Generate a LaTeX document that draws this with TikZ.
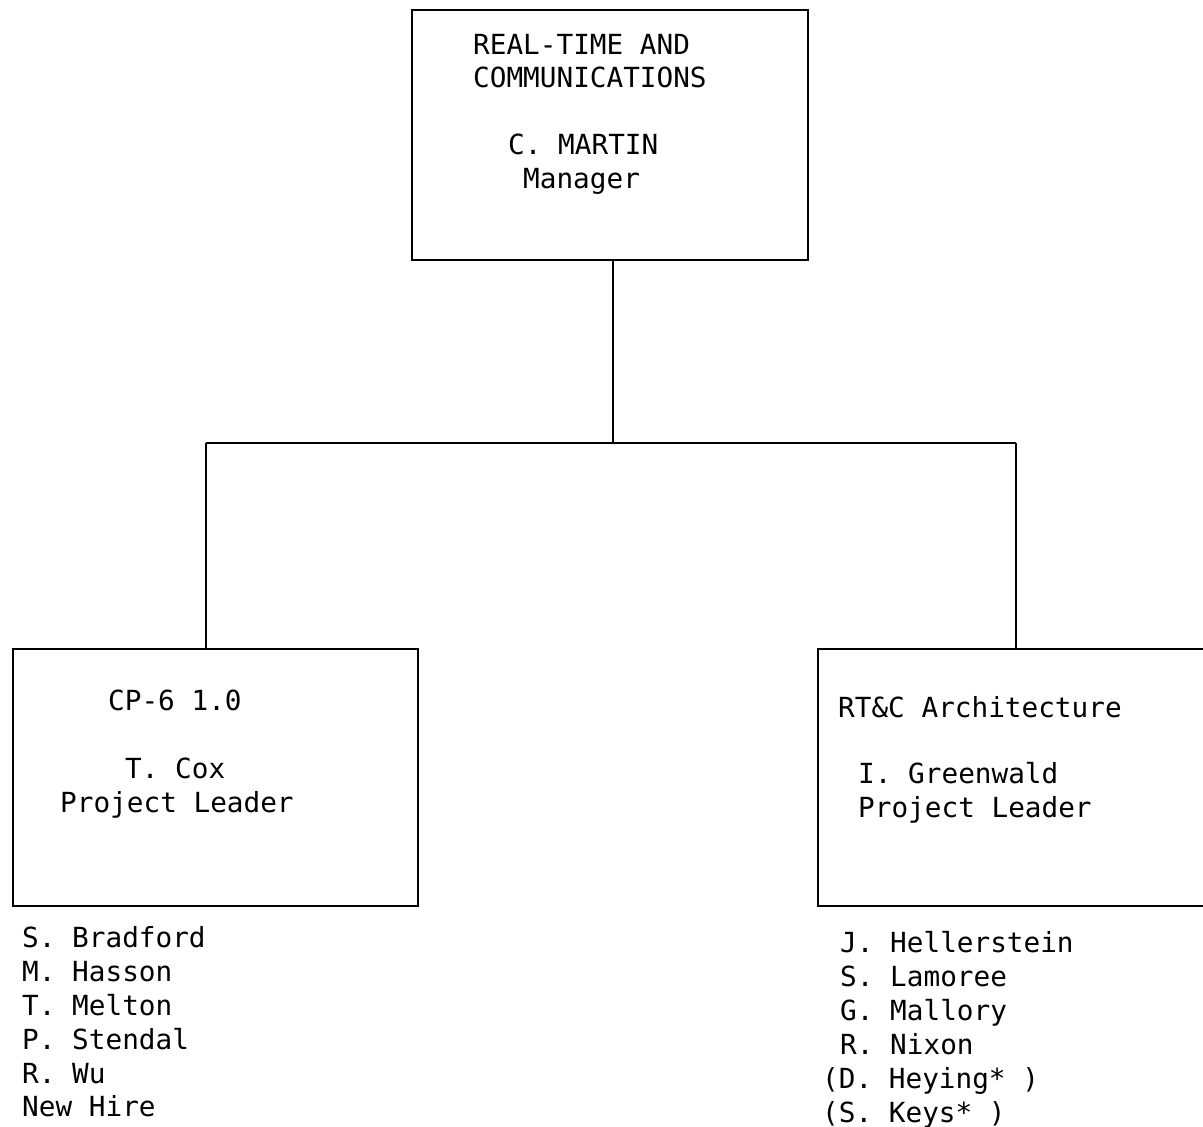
\documentclass[tikz,border=0pt]{standalone}
\usepackage{fontspec}
\setmonofont{DejaVu Sans Mono}
\usetikzlibrary{positioning}

\tikzset{
  box/.style={draw,line width=2.8pt,minimum width=396pt,minimum height=250pt,inner sep=0pt},
  typed/.style={anchor=base west,inner sep=0pt,font=\ttfamily\fontsize{27.7}{33.5}\selectfont},
  wire/.style={line width=2.8pt}
}

\begin{document}
\begin{tikzpicture}[x=1pt,y=-1pt]
    \useasboundingbox (0,0) rectangle (1203,1127);

    % boxes
    \node[box] (rtc)  at (610,135)   {};
    \node[box,minimum width=405pt,minimum height=257pt] (cp6)  at (215.5,777.5) {};
    \node[box,minimum width=405pt,minimum height=257pt] (arch) at (1020.5,777.5) {};

    % manager
    \node[typed] (rtcA) at (473,54)  {REAL-TIME AND};
    \node[typed] (rtcB) at (473,87)  {COMMUNICATIONS};
    \node[typed] (mgr)  at (508,154) {C. MARTIN};
    \node[typed] (mgrT) at (523,188) {Manager};

    % left group
    \node[typed] (cp6A) at (108,710) {CP-6 1.0};
    \node[typed] (cox)  at (125,778) {T. Cox};
    \node[typed] (coxT) at (60,812)  {Project Leader};

    % right group
    \node[typed] (archA) at (838,717) {RT\&C Architecture};
    \node[typed] (green) at (858,783) {I. Greenwald};
    \node[typed] (grnT)  at (858,817) {Project Leader};

    % staff lists
    \foreach \who [count=\i] in {S. Bradford,M. Hasson,T. Melton,P. Stendal,R. Wu,New Hire}
      \node[typed] (left\i) at (22,914+33.8*\i) {\who};
    \foreach \who [count=\i] in {J. Hellerstein,S. Lamoree,G. Mallory,R. Nixon}
      \node[typed] (right\i) at (840,919+33.8*\i) {\who};
    \node[typed] (right5) at (822,1088) {(D. Heying* )};
    \node[typed] (right6) at (822,1122) {(S. Keys* )};

    % connectors
    \coordinate (busT) at (613,443);
    \coordinate (busL) at (206,443);
    \coordinate (busR) at (1016,443);
    \draw[wire] (busT |- rtc.south) -- (busT);
    \draw[wire] (busL) -- (busR);
    \draw[wire] (busL) -- (busL |- cp6.north);
    \draw[wire] (busR) -- (busR |- arch.north);
\end{tikzpicture}
\end{document}
